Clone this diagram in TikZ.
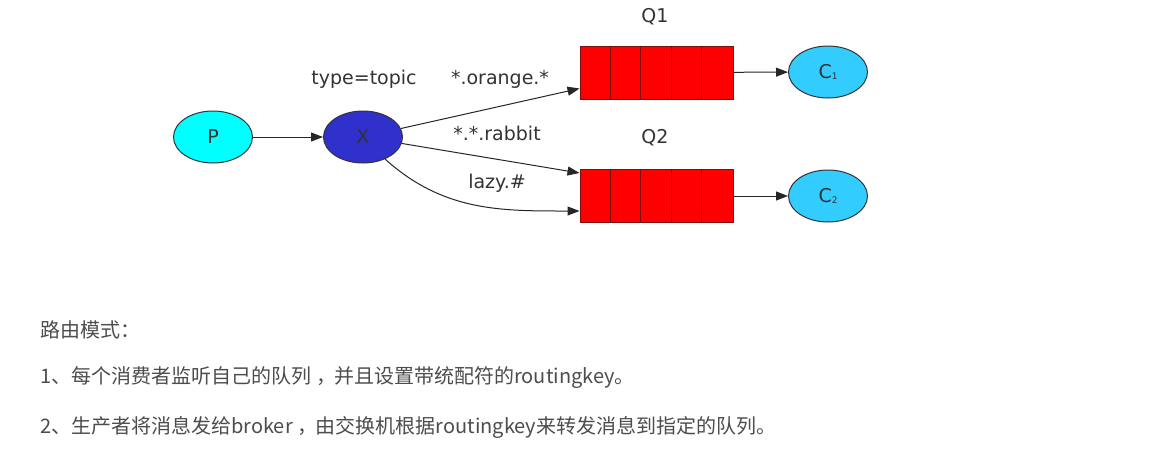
\documentclass[tikz,border=0pt]{standalone}
\usepackage{fontspec}
\setmainfont{DejaVu Sans}
\newfontfamily\cjk{Noto Sans CJK SC}
\usetikzlibrary{shapes.geometric,arrows.meta}
\definecolor{edge}{HTML}{333333}
\definecolor{txt}{HTML}{333333}
\definecolor{body}{HTML}{4D4D4D}
\definecolor{pfill}{HTML}{00FFFF}
\definecolor{xfill}{HTML}{3030CC}
\definecolor{cfill}{HTML}{33CCFF}
\definecolor{qfill}{HTML}{FF0000}
\definecolor{qline}{HTML}{7A1010}
\newcommand{\zcomma}{\hspace{5pt}，\hspace{-2pt}}
\begin{document}
\begin{tikzpicture}[x=1pt,y=-1pt,
  gv/.style={font=\fontsize{19}{20}\selectfont, text=txt},
  ell/.style={ellipse, draw=edge, line width=1pt, minimum width=79pt, minimum height=52pt, inner sep=0pt, font=\fontsize{19}{20}\selectfont, text=txt},
  queue/.style={rectangle, draw=qline, fill=qfill, line width=1pt, minimum width=153pt, minimum height=53pt, inner sep=0pt},
  arr/.style={draw=black!85, line width=1pt, -{Triangle[length=12pt,width=9pt]}},
  para/.style={anchor=west, font=\cjk\fontsize{20}{22}\selectfont, text=body, inner sep=0pt}]
\useasboundingbox (0,0) rectangle (1168,448);
\fill[white] (0,0) rectangle (1168,448);

\node[ell, fill=pfill] (p) at (213,137) {P};
\node[ell, fill=xfill] (x) at (363,137) {X};
\node[queue] (q1) at (656.5,72.5) {};
\node[queue] (q2) at (656.5,196) {};
\foreach \q in {q1,q2}{
  \foreach \k in {1,2,3,4}{
    \draw[qline, line width=1pt] ([xshift=\k*30.6pt]\q.north west) -- ([xshift=\k*30.6pt]\q.south west);
  }
}
\node[ell, fill=cfill] (c1) at (828,72) {C\raisebox{-0.15ex}{\fontsize{9}{10}\selectfont 1}};
\node[ell, fill=cfill] (c2) at (828,196) {C\raisebox{-0.15ex}{\fontsize{9}{10}\selectfont 2}};

\node[gv] (lq1) at (655,17) {Q1};
\node[gv] (lq2) at (655,138) {Q2};
\node[gv] (ltype) at (364,79) {type=topic};
\node[gv] (lor) at (500,79) {*.orange.*};
\node[gv] (lrab) at (497,133) {*.*.rabbit};
\node[gv] (llazy) at (497,183) {lazy.\#};

\draw[arr] (p) -- (x);
\draw[arr] (x) -- ([yshift=-16pt]q1.west);
\draw[arr] (x) -- ([yshift=23pt]q2.west);
\draw[arr] (x.-45) to[out=-42,in=180] ([yshift=-15pt]q2.west);
\draw[arr] (q1) -- (c1);
\draw[arr] (q2) -- (c2);

\node[para] (t0) at (40,330) {路由模式：};
\node[para] (t1) at (40,378) {1、每个消费者监听自己的队列\zcomma 并且设置带统配符的routingkey。};
\node[para] (t2) at (40,427) {2、生产者将消息发给broker\zcomma 由交换机根据routingkey来转发消息到指定的队列。};
\end{tikzpicture}
\end{document}
